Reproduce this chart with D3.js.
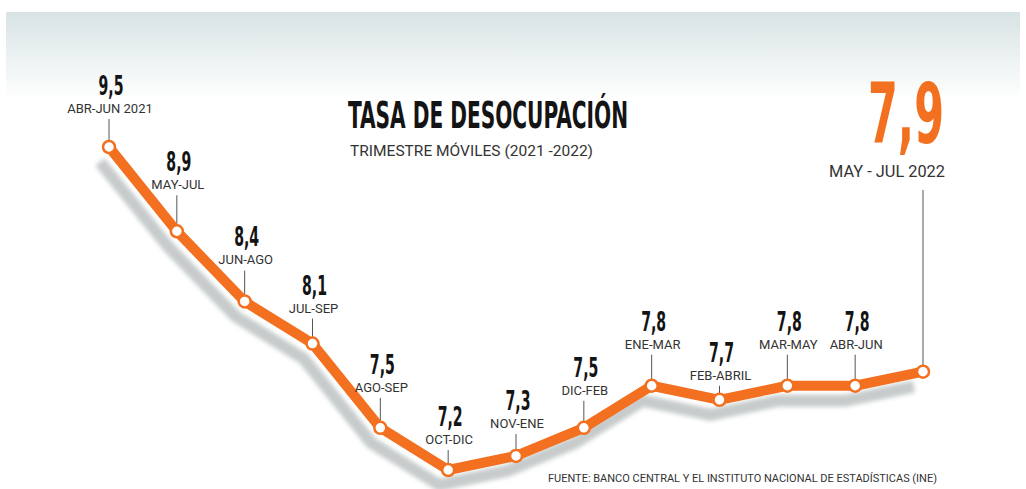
<!DOCTYPE html>
<html>
<head>
<meta charset="utf-8">
<script src="https://cdn.jsdelivr.net/npm/d3@7"></script>
<style>
  html, body { margin: 0; padding: 0; background: #ffffff; }
  svg { display: block; }
</style>
</head>
<body>
<script>
// ---- data ----
const periods = ["ABR-JUN 2021","MAY-JUL","JUN-AGO","JUL-SEP","AGO-SEP","OCT-DIC","NOV-ENE","DIC-FEB","ENE-MAR","FEB-ABRIL","MAR-MAY","ABR-JUN","MAY - JUL 2022"];
const values = [9.5, 8.9, 8.4, 8.1, 7.5, 7.2, 7.3, 7.5, 7.8, 7.7, 7.8, 7.8, 7.9];
const valueLabels = ["9,5","8,9","8,4","8,1","7,5","7,2","7,3","7,5","7,8","7,7","7,8","7,8","7,9"];
const title = "TASA DE DESOCUPACIÓN";
const subtitle = "TRIMESTRE MÓVILES (2021 -2022)";
const source = "FUENTE: BANCO CENTRAL Y EL INSTITUTO NACIONAL DE ESTADÍSTICAS (INE)";

// ---- layout (label lift above each marker, px) ----
const labelLift = [34, 42, 37, 31, 36, 26, 28, 33, 37, 20, 37, 37];

const W = 1026, H = 489;
const ORANGE = "#f2701f";
const condensed = "'Liberation Sans Narrow','DejaVu Sans Condensed','Roboto Condensed',sans-serif";
const sans = "Roboto, 'Open Sans', sans-serif";

const svg = d3.select("body").append("svg").attr("width", W).attr("height", H);
const defs = svg.append("defs");
const grad = defs.append("linearGradient").attr("id","bandGrad").attr("x1",0).attr("y1",0).attr("x2",0).attr("y2",1);
grad.append("stop").attr("offset","0%").attr("stop-color","#d8e3e4");
grad.append("stop").attr("offset","100%").attr("stop-color","#ffffff");
const blur = defs.append("filter").attr("id","blur").attr("x","-10%").attr("y","-10%").attr("width","120%").attr("height","120%");
blur.append("feGaussianBlur").attr("stdDeviation", 2);

// background band
svg.append("rect").attr("x",6).attr("y",12).attr("width",1014).attr("height",88).attr("fill","url(#bandGrad)");

const idx = d3.range(values.length);
const x = d3.scalePoint().domain(idx).range([109, 923]);
const y = d3.scaleLinear().domain([7.2, 9.5]).range([470, 147]);

const line = d3.line().x(i => x(i)).y(i => y(values[i]));

// shadow
svg.append("path")
  .attr("d", line(idx))
  .attr("transform","translate(-9,15)")
  .attr("fill","none")
  .attr("stroke","#c6cbcb")
  .attr("stroke-width",12)
  .attr("stroke-linejoin","round")
  .attr("filter","url(#blur)");

// tick lines
const last = values.length - 1;
const R = 6;
svg.append("g").selectAll("line")
  .data(idx)
  .join("line")
  .attr("x1", i => x(i)).attr("x2", i => x(i))
  .attr("y1", i => i === last ? 190 : y(values[i]) - labelLift[i] + 6)
  .attr("y2", i => y(values[i]) - R)
  .attr("stroke","#555")
  .attr("stroke-width",1);

// main line
svg.append("path")
  .attr("d", line(idx))
  .attr("fill","none")
  .attr("stroke", ORANGE)
  .attr("stroke-width",10)
  .attr("stroke-linejoin","round");

// markers
svg.append("g").selectAll("circle")
  .data(idx)
  .join("circle")
  .attr("cx", i => x(i)).attr("cy", i => y(values[i]))
  .attr("r", R)
  .attr("fill","#fff")
  .attr("stroke", ORANGE)
  .attr("stroke-width",2.5);

// period labels
const small = idx.filter(i => i !== last);
svg.append("g").selectAll("text")
  .data(small)
  .join("text")
  .attr("x", i => x(i) + 1)
  .attr("y", i => y(values[i]) - labelLift[i])
  .attr("text-anchor","middle")
  .attr("font-family", sans)
  .attr("font-size", 13)
  .attr("fill","#333")
  .text(i => periods[i]);

// value labels
svg.append("g").selectAll("text")
  .data(small)
  .join("text")
  .attr("x", i => x(i) + 2)
  .attr("y", i => y(values[i]) - labelLift[i] - 18)
  .attr("text-anchor","middle")
  .attr("font-family", condensed)
  .attr("font-weight", 700)
  .attr("font-size", 26)
  .attr("fill","#141414")
  .attr("textLength", 25)
  .attr("lengthAdjust","spacingAndGlyphs")
  .text(i => valueLabels[i]);

// last point highlight
svg.append("text")
  .attr("x", 944).attr("y", 143)
  .attr("text-anchor","end")
  .attr("font-family", condensed)
  .attr("font-weight", 700)
  .attr("font-size", 84)
  .attr("fill", ORANGE)
  .attr("textLength", 76)
  .attr("lengthAdjust","spacingAndGlyphs")
  .text(valueLabels[last]);
svg.append("text")
  .attr("x", 945).attr("y", 177)
  .attr("text-anchor","end")
  .attr("font-family", sans)
  .attr("font-size", 16.5)
  .attr("fill","#333")
  .attr("textLength", 116)
  .attr("lengthAdjust","spacingAndGlyphs")
  .text(periods[last]);

// title
svg.append("text")
  .attr("x", 348).attr("y", 128)
  .attr("font-family", condensed)
  .attr("font-weight", 700)
  .attr("font-size", 37)
  .attr("fill","#141414")
  .attr("textLength", 280)
  .attr("lengthAdjust","spacingAndGlyphs")
  .text(title);
svg.append("text")
  .attr("x", 350).attr("y", 156)
  .attr("font-family", sans)
  .attr("font-size", 14.5)
  .attr("fill","#333")
  .attr("textLength", 243)
  .attr("lengthAdjust","spacingAndGlyphs")
  .text(subtitle);

// source
svg.append("text")
  .attr("x", 548).attr("y", 482)
  .attr("font-family", sans)
  .attr("font-size", 10.5)
  .attr("fill","#333")
  .attr("textLength", 389)
  .attr("lengthAdjust","spacingAndGlyphs")
  .text(source);
</script>
</body>
</html>
